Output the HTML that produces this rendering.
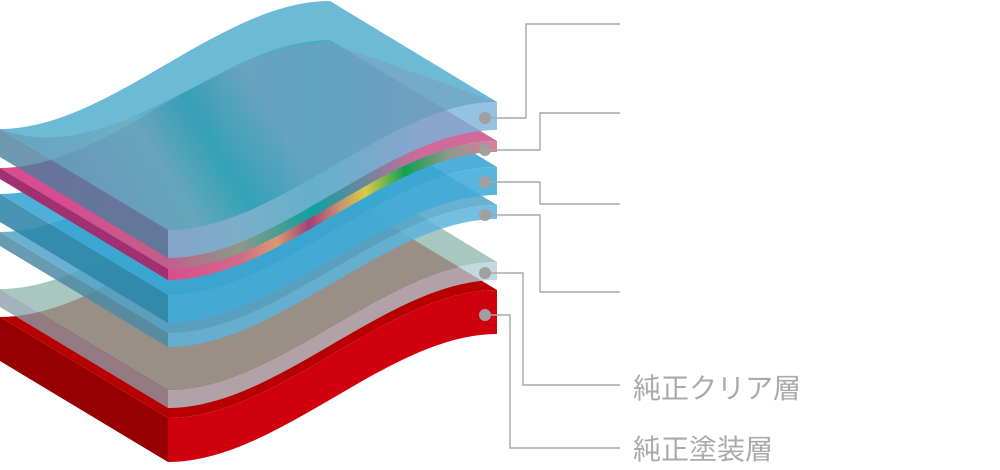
<!DOCTYPE html>
<html><head><meta charset="utf-8"><style>
html,body{margin:0;padding:0;background:#fff;}
svg{display:block;}
text{font-family:"Liberation Sans","Noto Sans CJK JP",sans-serif;}
</style></head><body>
<svg width="1000" height="470" viewBox="0 0 1000 470" xmlns="http://www.w3.org/2000/svg">
<defs>
<path id="top" d="M168,0 C278,0 388,-128 497,-128 L330,-229 C220,-229 110,-101 0,-101 Z"/>
<linearGradient id="rain" x1="168" y1="0" x2="497" y2="0" gradientUnits="userSpaceOnUse">
<stop offset="0" stop-color="#d94c8f"/><stop offset="0.22" stop-color="#d06a8a"/>
<stop offset="0.33" stop-color="#d99a70"/><stop offset="0.43" stop-color="#a0407a"/>
<stop offset="0.52" stop-color="#c89070"/><stop offset="0.6" stop-color="#d8cc48"/>
<stop offset="0.72" stop-color="#10a050"/><stop offset="0.85" stop-color="#8a9a88"/>
<stop offset="1" stop-color="#e07aa0"/></linearGradient>
<linearGradient id="rainTop" x1="60" y1="0" x2="420" y2="0" gradientUnits="userSpaceOnUse">
<stop offset="0" stop-color="#d94c8f"/><stop offset="0.3" stop-color="#c0608a"/>
<stop offset="0.5" stop-color="#8a9a88"/><stop offset="0.7" stop-color="#10a0a0"/>
<stop offset="1" stop-color="#d06a9a"/></linearGradient>
<linearGradient id="shine" x1="150" y1="200" x2="380" y2="60" gradientUnits="userSpaceOnUse">
<stop offset="0" stop-color="#5a86a8"/><stop offset="0.35" stop-color="#6a9ab0"/>
<stop offset="0.55" stop-color="#6aa8b0"/><stop offset="0.75" stop-color="#0a9aaa"/>
<stop offset="1" stop-color="#7a9abc"/></linearGradient>
</defs>

<g transform="translate(0,418)">
<path d="M0,-101 L168,0 L168,44 L0,-57 Z" fill="#960000"/>
<use href="#top" fill="#b80000"/>
<path d="M168,0 C278,0 388,-128 497,-128 L497,-84 C388,-84 278,44 168,44 Z" fill="#d0000f"/>
</g>
<g transform="translate(0,390)" opacity="0.78">
<path d="M0,-101 L168,0 L168,18 L0,-83 Z" fill="#8a9ea8"/>
<use href="#top" fill="#90b8ad"/>
<path d="M168,0 C278,0 388,-128 497,-128 L497,-110 C388,-110 278,18 168,18 Z" fill="#b0d0d8"/>
</g>
<g transform="translate(0,333)" opacity="0.85">
<path d="M0,-101 L168,0 L168,14 L0,-87 Z" fill="#4d8aa5"/>
<use href="#top" fill="#4ea4c8"/>
<path d="M168,0 C278,0 388,-128 497,-128 L497,-114 C388,-114 278,14 168,14 Z" fill="#5cb4dc"/>
</g>
<g transform="translate(0,295)" opacity="0.88">
<path d="M0,-101 L168,0 L168,28 L0,-73 Z" fill="#2e86a8"/>
<use href="#top" fill="#36a6d4"/>
<path d="M168,0 C278,0 388,-128 497,-128 L497,-100 C388,-100 278,28 168,28 Z" fill="#42acd8"/>
</g>
<g transform="translate(0,269)">
<path d="M0,-101 L168,0 L168,11 L0,-90 Z" fill="#a03070"/>
<use href="#top" fill="url(#rainTop)"/>
<path d="M168,0 C278,0 388,-128 497,-128 L497,-117 C388,-117 278,11 168,11 Z" fill="url(#rain)"/>
</g>
<g transform="translate(0,230)">
<path d="M0,-101 L168,0 L168,28 L0,-73 Z" fill="#4a7e9c" opacity="0.8"/>
<use href="#top" fill="#54aed0" opacity="0.85"/>
<path d="M168,0 C278,0 388,-128 497,-128 L497,-100 C388,-100 278,28 168,28 Z" fill="#78b4d8" opacity="0.8"/>
</g>
<g transform="translate(0,230)" opacity="0.5">
<path d="M168,0 C278,0 388,-128 497,-128 L330,-187 C220,-187 110,-59 0,-101 Z" fill="url(#shine)"/>
</g>

<g fill="none" stroke="#a8a8a8" stroke-width="1.4">
<polyline points="485,118 526,118 526,24 620,24"/>
<polyline points="485,150 540,150 540,113 620,113"/>
<polyline points="485,182 540,182 540,204 620,204"/>
<polyline points="485,215 540,215 540,292 620,292"/>
<polyline points="485,273 523,273 523,385 620,385"/>
<polyline points="485,315 510,315 510,448 620,448"/>
</g>
<g fill="#a0a0a0">
<circle cx="485" cy="118" r="6"/><circle cx="485" cy="150" r="6"/>
<circle cx="485" cy="182" r="6"/><circle cx="485" cy="215" r="6"/>
<circle cx="485" cy="273" r="6"/><circle cx="485" cy="315" r="6"/>
</g>
<text x="633" y="398" font-size="28" fill="#aaaaaa">純正クリア層</text>
<text x="633" y="459" font-size="28" fill="#aaaaaa">純正塗装層</text>
</svg>
</body></html>
